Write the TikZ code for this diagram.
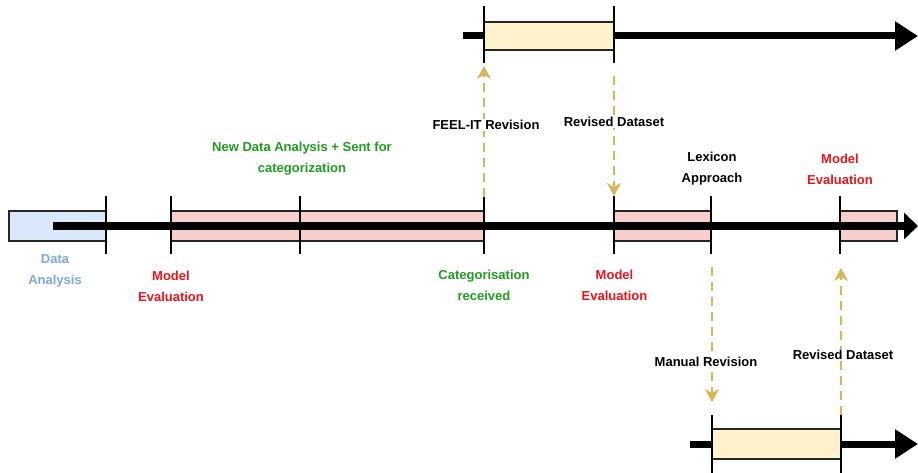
\documentclass[tikz,border=0pt]{standalone}
\usepackage{fontspec}
\setmainfont{Liberation Sans}
\usetikzlibrary{arrows.meta}
\definecolor{bluef}{HTML}{DAE8FC}
\definecolor{pinkf}{HTML}{F8CECC}
\definecolor{yellowf}{HTML}{FFF2CC}
\definecolor{dashc}{HTML}{D6B656}
\definecolor{redt}{HTML}{E8141B}
\definecolor{greent}{HTML}{1F9A1F}
\definecolor{bluet}{HTML}{7EA6E0}
\tikzset{
  lbl/.style={font=\bfseries\fontsize{13}{21}\selectfont, align=center, inner sep=1pt},
  box/.style={draw=black!85, line width=1.3pt, inner sep=0pt, minimum height=30},
  tline/.style={line width=7pt, -{Triangle[length=23pt,width=28pt]}},
  mline/.style={line width=7pt, -{Triangle[length=14pt,width=26pt]}},
  tickln/.style={line width=1.5pt},
  dasharr/.style={draw=dashc, line width=2pt, dash pattern=on 9pt off 6pt, -{Stealth[length=13pt,width=14pt,inset=4pt]}}
}
\begin{document}
\begin{tikzpicture}[x=1pt,y=-1pt]
\useasboundingbox (0,0) rectangle (918,473);
% ---------- main timeline ----------
\node[box, fill=bluef, minimum width=97] (da) at (57.5,226) {};
\node[box, fill=pinkf, minimum width=313] (p1) at (327.5,226) {};
\node[box, fill=pinkf, minimum width=97] (p2) at (662.5,226) {};
\node[box, fill=pinkf, minimum width=57] (p3) at (868.5,226) {};
\coordinate (ms) at (53,226);
\coordinate (me) at (918,226);
\draw[mline] (ms) -- (me);
\foreach \x in {106,171,300,484,614,711,840}
  \draw[tickln] (\x,196) -- (\x,254);
% ---------- top timeline ----------
\coordinate (ts) at (463,36);
\coordinate (te) at (918,36);
\draw[tline] (ts) -- (te);
\node[box, fill=yellowf, minimum width=130, minimum height=28] (y1) at (549,36) {};
\foreach \x in {484,614}
  \draw[tickln] (\x,6) -- (\x,63);
% ---------- bottom timeline ----------
\coordinate (bs) at (690,444);
\coordinate (be) at (918,444);
\draw[tline] (bs) -- (be);
\node[box, fill=yellowf, minimum width=129] (y2) at (776.5,444) {};
\foreach \x in {712,841}
  \draw[tickln] (\x,415) -- (\x,473);
% ---------- dashed arrows ----------
\coordinate (fa) at (484,197);
\coordinate (fb) at (484,66);
\draw[dasharr] (fa) -- (fb);
\coordinate (ra) at (614,76);
\coordinate (rb) at (614,196);
\draw[dasharr] (ra) -- (rb);
\coordinate (ma) at (712,267);
\coordinate (mb) at (712,402);
\draw[dasharr] (ma) -- (mb);
\coordinate (sa) at (841,415);
\coordinate (sb) at (841,268);
\draw[dasharr] (sa) -- (sb);
% ---------- labels ----------
\node[lbl, fill=white] (feel) at (486,125) {FEEL-IT Revision};
\node[lbl, fill=white] (rev1) at (614,122) {Revised Dataset};
\node[lbl, fill=white] (man) at (706,362) {Manual Revision};
\node[lbl, fill=white] (rev2) at (843,355) {Revised Dataset};
\node[lbl, text=bluet] (l1) at (55,270.5) {Data\\Analysis};
\node[lbl, text=redt] (l2) at (171,286) {Model\\Evaluation};
\node[lbl, text=greent] (l3) at (302,158.5) {New Data Analysis + Sent for\\categorization};
\node[lbl, text=greent] (l4) at (484,285.5) {Categorisation\\received};
\node[lbl, text=redt] (l5) at (614.5,285.5) {Model\\Evaluation};
\node[lbl] (l6) at (712,169) {Lexicon\\Approach};
\node[lbl, text=redt] (l7) at (840,169) {Model\\Evaluation};
\end{tikzpicture}
\end{document}
